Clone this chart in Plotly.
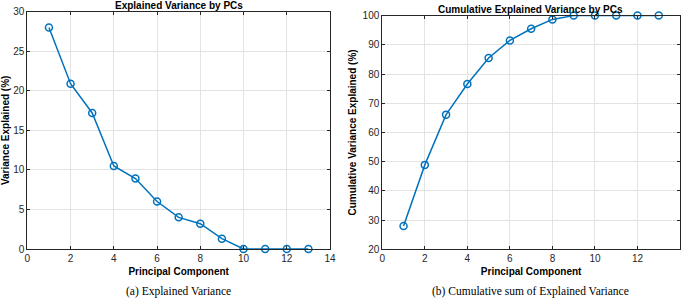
import plotly.graph_objects as go

components = [1, 2, 3, 4, 5, 6, 7, 8, 9, 10, 11, 12, 13]
explained = [28.0, 20.9, 17.2, 10.5, 8.9, 6.0, 4.0, 3.2, 1.3, 0.0, 0.0, 0.0, 0.0]
cumulative = [28.0, 48.9, 66.1, 76.6, 85.5, 91.5, 95.5, 98.7, 100.0, 100.0, 100.0, 100.0, 100.0]
x_ticks = [0, 2, 4, 6, 8, 10, 12, 14]
y1_ticks = [0, 5, 10, 15, 20, 25, 30]
y2_ticks = [20, 30, 40, 50, 60, 70, 80, 90, 100]

BLUE = "#0072BD"
AXC = "#262626"
GRID = "#e3e3e3"
SANS = "Liberation Sans, Arial, sans-serif"
SERIF = "Liberation Serif, Times New Roman, serif"

fig = go.Figure()
for x, y, xa, ya in [(components, explained, "x", "y"), (components, cumulative, "x2", "y2")]:
    fig.add_trace(go.Scatter(
        x=x, y=y, xaxis=xa, yaxis=ya, mode="lines+markers",
        line=dict(color=BLUE, width=1.5),
        marker=dict(symbol="circle-open", size=7, color=BLUE, line=dict(width=1.5)),
        showlegend=False, cliponaxis=False,
    ))

axis_common = dict(
    showline=True, linecolor=AXC, linewidth=1, mirror="ticks",
    ticks="inside", ticklen=3, tickcolor=AXC, tickwidth=1,
    showgrid=True, gridcolor=GRID, gridwidth=1, zeroline=False,
    tickfont=dict(family=SANS, size=10, color=AXC), automargin=False,
)
title_font = dict(family=SANS, size=10, color="#000000", weight="bold")

fig.update_layout(
    width=685, height=300,
    margin=dict(l=0, r=0, t=0, b=0),
    paper_bgcolor="white", plot_bgcolor="white",
    xaxis=dict(domain=[0.0399, 0.4818], range=[0, 14], tickvals=x_ticks,
               title=dict(text="Principal Component", font=title_font, standoff=4),
               anchor="y", **axis_common),
    yaxis=dict(domain=[0.170, 0.961], range=[0, 30], tickvals=y1_ticks,
               title=dict(text="Variance Explained (%)", font=title_font, standoff=6),
               anchor="x", **axis_common),
    xaxis2=dict(domain=[0.5581, 0.9927], range=[0, 14], tickvals=x_ticks,
                title=dict(text="Principal Component", font=title_font, standoff=4),
                anchor="y2", **axis_common),
    yaxis2=dict(domain=[0.169, 0.948], range=[20, 100], tickvals=y2_ticks,
                title=dict(text="Cumulative Variance Explained (%)", font=title_font, standoff=4),
                anchor="x2", **axis_common),
    annotations=[
        dict(text="Explained Variance by PCs", x=0.261, y=0.983, xref="paper", yref="paper",
             xanchor="center", yanchor="middle", showarrow=False, font=title_font),
        dict(text="Cumulative Explained Variance by PCs", x=0.775, y=0.970, xref="paper", yref="paper",
             xanchor="center", yanchor="middle", showarrow=False, font=title_font),
        dict(text="(a) Explained Variance", x=0.261, y=0.027, xref="paper", yref="paper",
             xanchor="center", yanchor="middle", showarrow=False,
             font=dict(family=SERIF, size=11.5, color="#000000")),
        dict(text="(b) Cumulative sum of Explained Variance", x=0.775, y=0.027, xref="paper", yref="paper",
             xanchor="center", yanchor="middle", showarrow=False,
             font=dict(family=SERIF, size=11.5, color="#000000")),
    ],
)

fig.write_html("out.html", config={"displayModeBar": False},
               post_script="document.body.style.margin='0';")
